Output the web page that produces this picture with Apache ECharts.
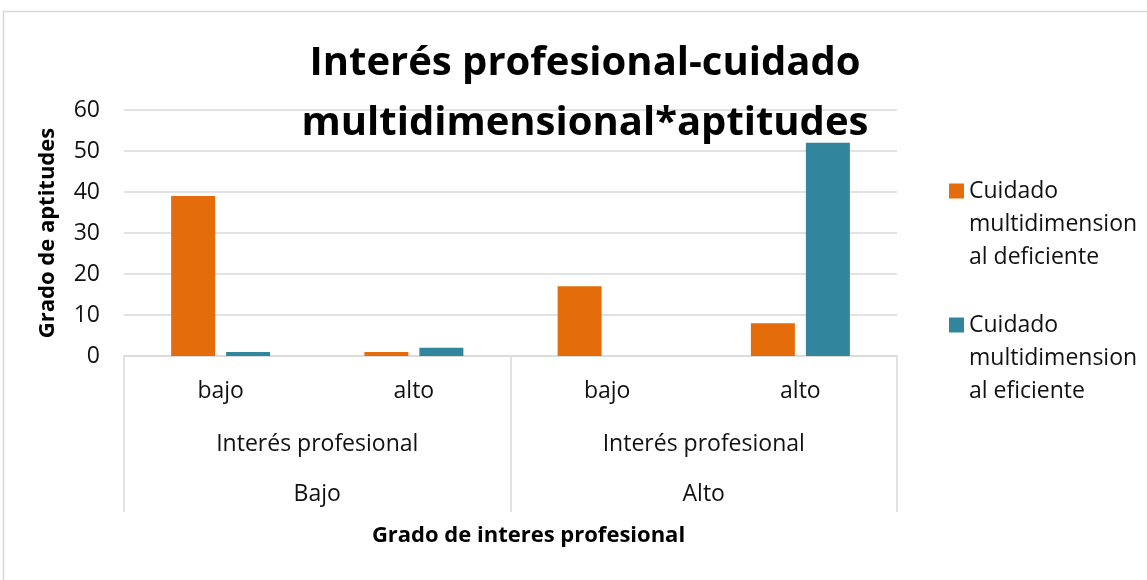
<!DOCTYPE html>
<html>
<head>
<meta charset="utf-8">
<script src="https://cdn.jsdelivr.net/npm/echarts@6/dist/echarts.min.js"></script>
<style>
  html, body { margin: 0; padding: 0; background: #fff; }
  #chart { width: 1147px; height: 580px; }
</style>
</head>
<body>
<div id="chart"></div>
<script>
// datos
var nivelAptitud = ['bajo', 'alto', 'bajo', 'alto'];
var grupoInteres = ['Interés profesional', 'Interés profesional'];
var gradoInteres = ['Bajo', 'Alto'];
var serieNombres = ['Cuidado multidimensional deficiente', 'Cuidado multidimensional eficiente'];
var deficiente = [39, 1, 17, 8];
var eficiente = [1, 2, 0, 52];
var yTicks = [0, 60, 10];

var fuente = 'Open Sans';
var gris = '#d9d9d9';
var tam = 23;

// leyenda partida en tres lineas; dos lineas vacias arriba para que el
// cuadro quede a la altura de la primera linea
function leyendaTexto(name) {
  return '\n\n' + name.replace(' multidimensional ', '\nmultidimension\nal ');
}
function leyenda(name, centro) {
  return {
    orient: 'vertical',
    left: 944,
    top: centro - 82.5 - 5,
    itemWidth: 15,
    itemHeight: 15,
    icon: 'rect',
    data: [name],
    selectedMode: false,
    formatter: leyendaTexto,
    textStyle: {
      fontFamily: fuente,
      fontSize: tam,
      color: '#111',
      lineHeight: 33
    }
  };
}

var myChart = echarts.init(document.getElementById('chart'));
var option = {
  backgroundColor: '#fff',
  animation: false,
  title: {
    text: 'Interés profesional-cuidado\nmultidimensional*aptitudes',
    left: 580,
    top: 29,
    textAlign: 'center',
    textStyle: {
      fontFamily: fuente,
      fontSize: 40,
      fontWeight: 'bold',
      color: '#000',
      lineHeight: 60
    }
  },
  graphic: [{
    type: 'rect',
    shape: { x: 3.5, y: 11.5, width: 1160, height: 620 },
    style: { fill: 'none', stroke: gris, lineWidth: 1.5 },
    silent: true
  }],
  legend: [
    leyenda(serieNombres[0], 191),
    leyenda(serieNombres[1], 325)
  ],
  grid: {
    left: 124,
    right: 250,
    top: 110,
    bottom: 224,
    outerBoundsMode: 'none'
  },
  xAxis: [
    {
      type: 'category',
      data: nivelAptitud,
      position: 'bottom',
      axisLine: { lineStyle: { color: gris, width: 1.5 } },
      axisTick: { show: false },
      axisLabel: { fontFamily: fuente, fontSize: tam, color: '#111', margin: 24 },
      name: 'Grado de interes profesional',
      nameLocation: 'middle',
      nameGap: 169,
      nameTextStyle: {
        fontFamily: fuente, fontSize: 22, fontWeight: 'bold', color: '#000',
        padding: [0, 0, 0, 36]
      }
    },
    {
      type: 'category',
      data: grupoInteres,
      position: 'bottom',
      offset: 53,
      axisLine: { show: false },
      axisTick: { show: false },
      axisLabel: { fontFamily: fuente, fontSize: tam, color: '#111', margin: 24 }
    },
    {
      type: 'category',
      data: gradoInteres,
      position: 'bottom',
      offset: 103,
      axisLine: { show: false },
      axisTick: { show: false },
      axisLabel: { fontFamily: fuente, fontSize: tam, color: '#111', margin: 24 }
    },
    {
      // lineas verticales que separan los grupos
      type: 'category',
      data: gradoInteres,
      position: 'bottom',
      axisLine: { show: false },
      axisTick: { show: true, length: 156, lineStyle: { color: gris, width: 1.5 } },
      axisLabel: { show: false }
    }
  ],
  yAxis: {
    type: 'value',
    min: yTicks[0],
    max: yTicks[1],
    interval: yTicks[2],
    axisLine: { show: false },
    axisTick: { show: false },
    axisLabel: { fontFamily: fuente, fontSize: tam, color: '#111', margin: 24 },
    splitLine: { lineStyle: { color: gris, width: 1.5 } },
    name: 'Grado de aptitudes',
    nameLocation: 'middle',
    nameGap: 65,
    nameTextStyle: { fontFamily: fuente, fontSize: 22, fontWeight: 'bold', color: '#000' }
  },
  series: [
    {
      name: serieNombres[0],
      type: 'bar',
      data: deficiente,
      barWidth: 44,
      barGap: '25%',
      itemStyle: { color: '#E46C0A' }
    },
    {
      name: serieNombres[1],
      type: 'bar',
      data: eficiente,
      barWidth: 44,
      barGap: '25%',
      itemStyle: { color: '#31859C' }
    }
  ]
};
myChart.setOption(option);
</script>
</body>
</html>
